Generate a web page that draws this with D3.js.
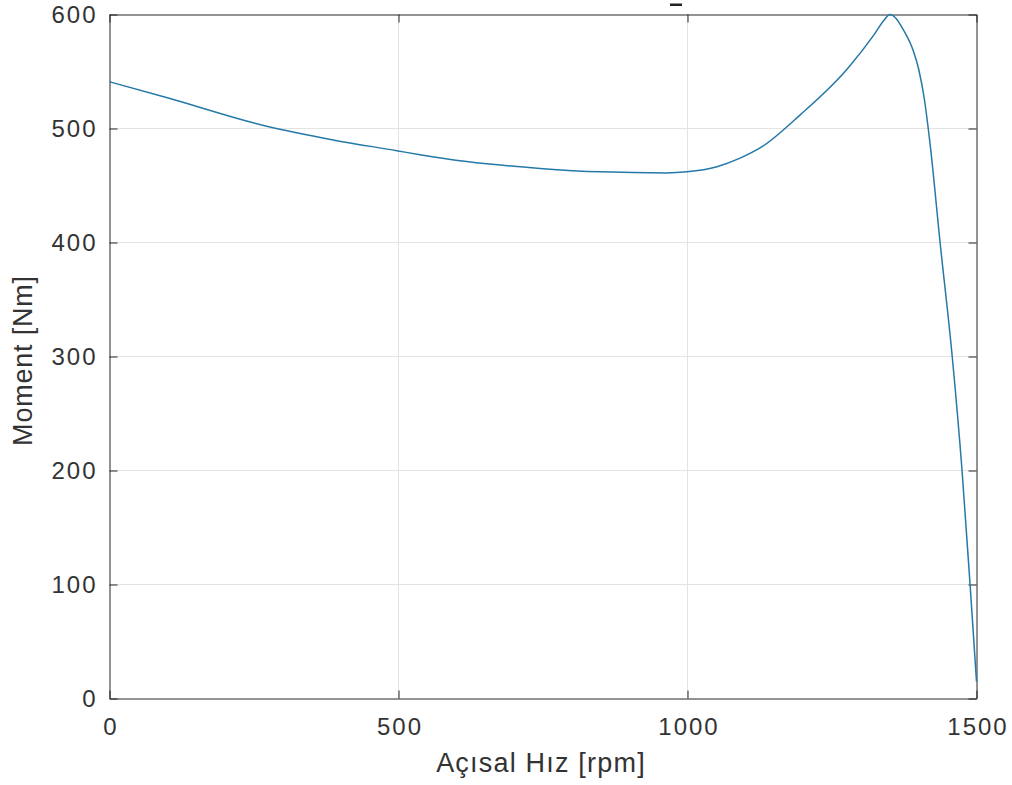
<!DOCTYPE html>
<html><head><meta charset="utf-8">
<script src="https://cdn.jsdelivr.net/npm/d3@7"></script>
<style>body{margin:0;background:#fff}svg{display:block}</style>
</head><body>
<svg id="c" width="1012" height="785"></svg>
<script>
const speed = [0,100,272,387,497,537,618,745,849,964,999,1051,1091,1129,1195,1276,1321,1340,1350,1360,1373,1390,1400,1410,1420,1437,1458,1475,1489,1500];
const torque = [541,527,502,490,480.5,477,471,465,462,461,462,466.5,474,484,512,552,581,595,600,597,587,569,552,525,485,400,300,200,99,15];
const xTicks = [0,500,1000,1500];
const yTicks = [0,100,200,300,400,500,600];
const xLabel = "Açısal Hız [rpm]";
const yLabel = "Moment [Nm]";

const L=109.5,R=976.5,T=14.5,B=698.5;
const svg=d3.select("#c");
const x=d3.scaleLinear().domain([0,1500]).range([L,R]);
const y=d3.scaleLinear().domain([0,600]).range([B,T]);
const font="'Liberation Sans', Arial, sans-serif";
const ink="#262626";

// grid
svg.append("g").selectAll("line").data(xTicks.slice(1,-1)).join("line")
 .attr("x1",d=>x(d)).attr("x2",d=>x(d)).attr("y1",T).attr("y2",B)
 .attr("stroke","#e3e3e3").attr("stroke-width",1);
svg.append("g").selectAll("line").data(yTicks.slice(1,-1)).join("line")
 .attr("y1",d=>y(d)).attr("y2",d=>y(d)).attr("x1",L).attr("x2",R)
 .attr("stroke","#e3e3e3").attr("stroke-width",1);

// axes
const ax=(g,axis)=>{g.call(axis);g.select(".domain").attr("stroke",ink);g.selectAll(".tick line").attr("stroke",ink);
 g.selectAll("text").attr("fill","#333").style("font-family",font).style("font-size","24px").style("letter-spacing","2px");};
svg.append("g").attr("transform",`translate(0,${B})`).call(g=>{ax(g,d3.axisBottom(x).tickValues(xTicks).tickFormat(d3.format("d")).tickSizeInner(-8).tickSizeOuter(0).tickPadding(19));g.selectAll("text").attr("dx","1px");});
svg.append("g").attr("transform",`translate(0,${T})`).call(g=>{ax(g,d3.axisTop(x).tickValues(xTicks).tickSizeInner(-8).tickSizeOuter(0));g.selectAll("text").remove();});
svg.append("g").attr("transform",`translate(${L},0)`).call(g=>ax(g,d3.axisLeft(y).tickValues(yTicks).tickFormat(d3.format("d")).tickSizeInner(-8).tickSizeOuter(0).tickPadding(12)));
svg.append("g").attr("transform",`translate(${R},0)`).call(g=>{ax(g,d3.axisRight(y).tickValues(yTicks).tickSizeInner(-8).tickSizeOuter(0));g.selectAll("text").remove();});

// curve
svg.append("path").datum(speed.map((s,i)=>[s,torque[i]]))
 .attr("fill","none").attr("stroke","#2479a8").attr("stroke-width",1.5)
 .attr("d",d3.line().x(d=>x(d[0])).y(d=>y(d[1])).curve(d3.curveMonotoneX));

// labels
svg.append("text").attr("x",(L+R)/2-2).attr("y",772).attr("text-anchor","middle")
 .attr("fill","#333").style("font-family",font).style("font-size","27px").style("letter-spacing","1.2px").text(xLabel);
svg.append("text").attr("transform",`translate(32,${(T+B)/2+4}) rotate(-90)`).attr("text-anchor","middle")
 .attr("fill","#333").style("font-family",font).style("font-size","27px").style("letter-spacing","0.8px").text(yLabel);
// clipped title fragment (only a dash of it is visible)
svg.append("rect").attr("x",670).attr("y",3.5).attr("width",12).attr("height",2.5).attr("fill","#222");
</script>
</body></html>
